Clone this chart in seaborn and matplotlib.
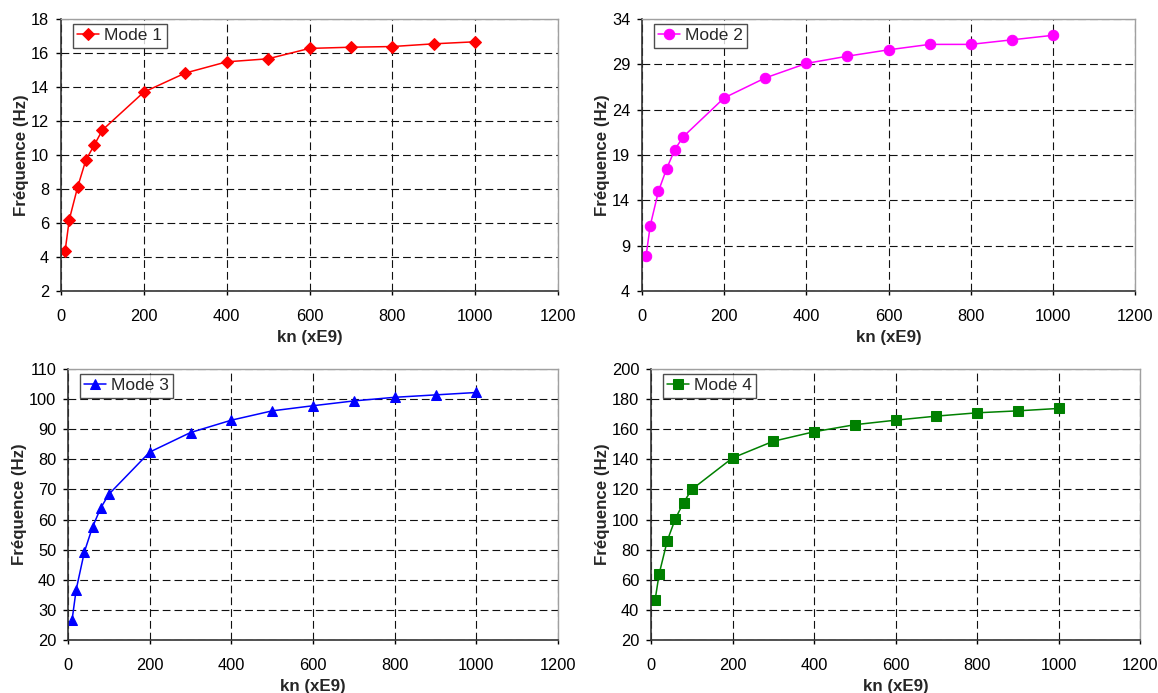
import matplotlib
matplotlib.use("Agg")
import matplotlib.pyplot as plt
import seaborn as sns

# kn values (xE9)
kn = [10, 20, 40, 60, 80, 100, 200, 300, 400, 500, 600, 700, 800, 900, 1000]

mode1 = [4.37, 6.2, 8.1, 9.7, 10.57, 11.47, 13.7, 14.82, 15.48, 15.66, 16.27, 16.34, 16.38, 16.54, 16.66]
mode2 = [7.9, 11.2, 15.0, 17.5, 19.6, 21.0, 25.3, 27.5, 29.1, 29.9, 30.6, 31.2, 31.2, 31.7, 32.2]
mode3 = [26.7, 36.7, 49.2, 57.5, 63.8, 68.4, 82.4, 88.9, 93.0, 96.1, 97.8, 99.4, 100.6, 101.4, 102.2]
mode4 = [46.5, 63.9, 86.0, 100.7, 111.3, 120.0, 140.9, 152.0, 158.3, 163.0, 166.0, 168.7, 170.9, 172.2, 173.8]

labels = ["Mode 1", "Mode 2", "Mode 3", "Mode 4"]
colors = ["#ff0000", "#ff00ff", "#0000ff", "#008000"]
markers = ["D", "o", "^", "s"]
msizes = [6, 7.5, 7.5, 7]
ylims = [(2, 18, 2), (4, 34, 5), (20, 110, 10), (20, 200, 20)]
series = [mode1, mode2, mode3, mode4]

sns.set_style("white")
plt.rcParams["font.family"] = ["Liberation Sans", "DejaVu Sans"]

W, H = 1158, 693
fig = plt.figure(figsize=(W / 100, H / 100), dpi=100)

# axes boxes in pixels: left, right, top, bottom
boxes = [(61, 558, 19, 291), (642, 1135, 19, 291),
         (68, 558, 369, 640), (651, 1140, 369, 640)]

for i in range(4):
    l, r, t, b = boxes[i]
    w, h = r - l, b - t
    ax = fig.add_axes([l / W, 1 - b / H, w / W, h / H])
    sns.lineplot(x=kn, y=series[i], ax=ax, color=colors[i], marker=markers[i],
                 markersize=msizes[i], markeredgecolor=colors[i],
                 linewidth=1.1, label=labels[i])
    lo, hi, step = ylims[i]
    ax.set_xlim(0, 1200)
    ax.set_ylim(lo, hi)
    ax.set_xticks(range(0, 1201, 200))
    ax.set_yticks(range(lo, hi + 1, step))
    ax.grid(True, color="#111111", linestyle=(0, (7, 3.6)), linewidth=0.8)
    ax.set_axisbelow(True)
    for side in ["top", "right"]:
        ax.spines[side].set_color("#a0a0a0")
        ax.spines[side].set_linewidth(1.0)
    for side in ["left", "bottom"]:
        ax.spines[side].set_color("#333333")
        ax.spines[side].set_linewidth(1.2)
    ax.tick_params(axis="x", direction="out", length=3, width=1, labelsize=11.8,
                   colors="black", pad=10, bottom=True)
    ax.tick_params(axis="y", direction="out", length=3.5, width=1, labelsize=11.8,
                   colors="black", pad=5, left=True)
    ax.set_xlabel("kn (xE9)", fontsize=12.2, fontweight="bold", labelpad=4)
    ax.set_ylabel("Fréquence (Hz)", fontsize=12.2, fontweight="bold", labelpad=1.5)
    leg = ax.legend(loc="upper left", bbox_to_anchor=(12 / w, 1 - 5 / h),
                    borderaxespad=0, fontsize=12.5, frameon=True, fancybox=False,
                    borderpad=0.25, handlelength=1.25, handletextpad=0.3)
    leg.get_frame().set_edgecolor("#222222")
    leg.get_frame().set_linewidth(1.0)

fig.savefig("out.png", dpi=100)
